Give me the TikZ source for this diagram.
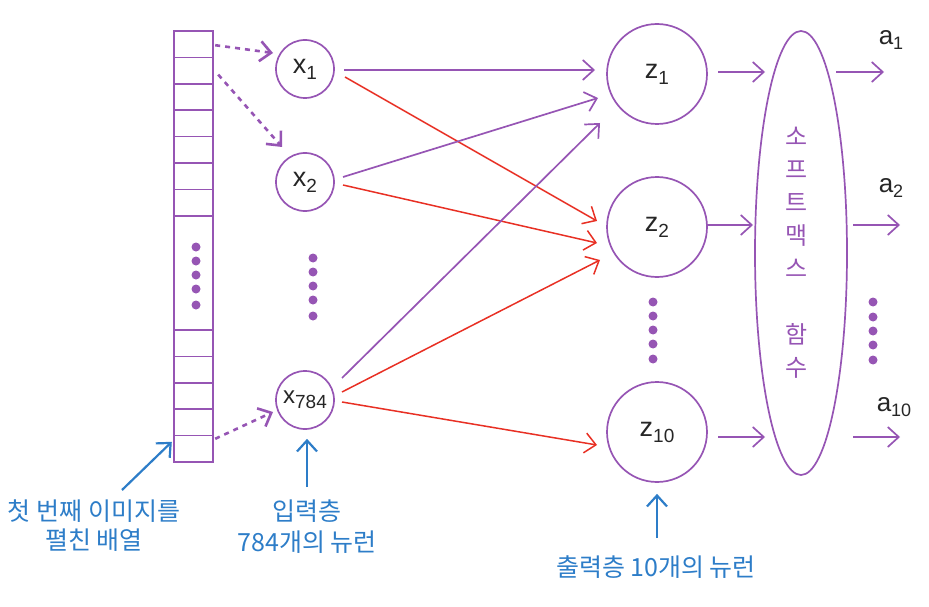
\documentclass[tikz,border=0pt]{standalone}
\usepackage{fontspec}
\setmainfont{Liberation Sans}
\newfontfamily\kr{Noto Sans CJK KR}
\usetikzlibrary{arrows.meta,shapes.geometric}
\definecolor{pur}{RGB}{150,85,180}
\definecolor{redl}{RGB}{232,48,36}
\definecolor{bluel}{RGB}{45,125,200}
\newcommand{\nlab}[4]{\fontsize{#3}{#3}\selectfont #1\raisebox{-0.22em}{\fontsize{#4}{#4}\selectfont #2}}
\begin{document}
\begin{tikzpicture}[x=1pt,y=-1pt,
  neuron/.style={circle, draw=pur, line width=1.7pt, inner sep=0pt, text=black!85},
  inode/.style={neuron, minimum size=58pt},
  onode/.style={neuron, minimum size=100pt},
  tipv/.style={-{Straight Barb[length=11pt,width=20pt]}},
  parr/.style={draw=pur, line width=1.7pt, tipv},
  rarr/.style={draw=redl, line width=1.5pt, tipv},
  barr/.style={draw=bluel, line width=2.2pt, tipv},
  darr/.style={draw=pur, line width=2.6pt, dash pattern=on 5pt off 5pt, tipv},
  arrline/.style={draw=pur, line width=1.7pt},
  dotf/.style={fill=pur},
  cellbox/.style={inner sep=0pt, minimum width=39pt, minimum height=26.4pt},
  krtext/.style={text=bluel, font=\kr\fontsize{25}{29}\selectfont, align=center},
  outlab/.style={text=black!85, inner sep=0pt}
]
\useasboundingbox (0,0) rectangle (929,607);

% flattened array
\draw[arrline] (174,31) rectangle (213,462);
\foreach \k in {1,...,7} \draw[arrline] (174,31+26.4*\k) -- (213,31+26.4*\k);
\foreach \k in {0,...,4} \draw[arrline] (174,330+26.4*\k) -- (213,330+26.4*\k);
\node[cellbox] (cA) at (193.5,44.2) {};
\node[cellbox] (cB) at (193.5,70.6) {};
\node[cellbox] (cZ) at (193.5,448.8) {};
\foreach \yy in {247,261,275,289,305} \fill[dotf] (196,\yy) circle (4.5);

% input neurons
\node[inode] (x1) at (305,69) {\nlab{x}{1}{27}{19}};
\node[inode] (x2) at (305,182) {\nlab{x}{2}{27}{19}};
\node[inode] (x784) at (305,400) {\nlab{x}{784}{24}{19}};
\foreach \yy in {258,272,286,300,316} \fill[dotf] (313,\yy) circle (4.5);

% output neurons
\node[onode] (z1) at (657,74) {\nlab{z}{1}{27}{19}};
\node[onode] (z2) at (657,227) {\nlab{z}{2}{27}{19}};
\node[onode] (z10) at (657,432) {\nlab{z}{10}{27}{19}};
\foreach \yy in {302,316,330,344,359} \fill[dotf] (653,\yy) circle (4.5);

% softmax
\node[ellipse, draw=pur, line width=1.7pt, minimum width=92pt, minimum height=444pt, inner sep=0pt] (sm) at (801,253) {};
\node[text=pur, font=\kr\fontsize{24}{33}\selectfont, align=center] (smt) at (797,253) {소\\프\\트\\맥\\스\\~\\함\\수};

% outputs
\node[outlab] (a1) at (891,40) {\nlab{a}{1}{26}{18}};
\node[outlab] (a2) at (891,188) {\nlab{a}{2}{26}{18}};
\node[outlab] (a10) at (894,407) {\nlab{a}{10}{26}{18}};
\coordinate (o1) at (884,72);
\coordinate (o2) at (900,225);
\coordinate (o10) at (900,437);
\foreach \yy in {302,317,331,345,360} \fill[dotf] (873,\yy) circle (4.5);

% dashed arrows from array
\draw[darr] ([shift={(2,1)}]cA.east) -- ([shift={(-32,-16)}]x1.center);
\draw[darr] ([shift={(5,4)}]cB.east) -- ([shift={(-23,-35)}]x2.center);
\draw[darr] ([shift={(2,-10)}]cZ.east) -- ([shift={(-32,12)}]x784.center);

% connections
\draw[parr] ([shift={(39,1)}]x1.center) -- ([shift={(-62,-4)}]z1.center);
\draw[rarr] ([shift={(40,8)}]x1.center) -- ([shift={(-60,-6)}]z2.center);
\draw[parr] ([shift={(38,-5)}]x2.center) -- ([shift={(-59,24)}]z1.center);
\draw[rarr] ([shift={(38,3)}]x2.center) -- ([shift={(-60,16)}]z2.center);
\draw[parr] ([shift={(37,-22)}]x784.center) -- ([shift={(-57,49)}]z1.center);
\draw[rarr] ([shift={(37,-8)}]x784.center) -- ([shift={(-57,33)}]z2.center);
\draw[rarr] ([shift={(37,2)}]x784.center) -- ([shift={(-60,13)}]z10.center);

% to softmax
\draw[parr] ([shift={(61,-2)}]z1.center) -- ([shift={(-36,-181)}]sm.center);
\draw[parr] ([shift={(50,-2)}]z2.center) -- ([shift={(-48,-28)}]sm.center);
\draw[parr] ([shift={(61,5)}]z10.center) -- ([shift={(-36,184)}]sm.center);

% from softmax
\draw[parr] ([shift={(35,-181)}]sm.center) -- (o1);
\draw[parr] ([shift={(52,-28)}]sm.center) -- (o2);
\draw[parr] ([shift={(52,184)}]sm.center) -- (o10);

% annotations
\node[krtext] (t1) at (94,526) {첫 번째 이미지를\\펼친 배열};
\node[krtext, font=\kr\fontsize{25}{31}\selectfont] (t2) at (307,527) {입력층\\784개의 뉴런};
\node[krtext] (t3) at (656,567) {출력층 10개의 뉴런};
\coordinate (b1) at (122,490);
\coordinate (b2) at (307,487);
\coordinate (b3) at (657,538);
\draw[barr] (b1) -- ([shift={(-2,-7)}]cZ.west);
\draw[barr] (b2) -- ([shift={(2,9)}]x784.south);
\draw[barr] (b3) -- ([shift={(0,11)}]z10.south);
\end{tikzpicture}
\end{document}
